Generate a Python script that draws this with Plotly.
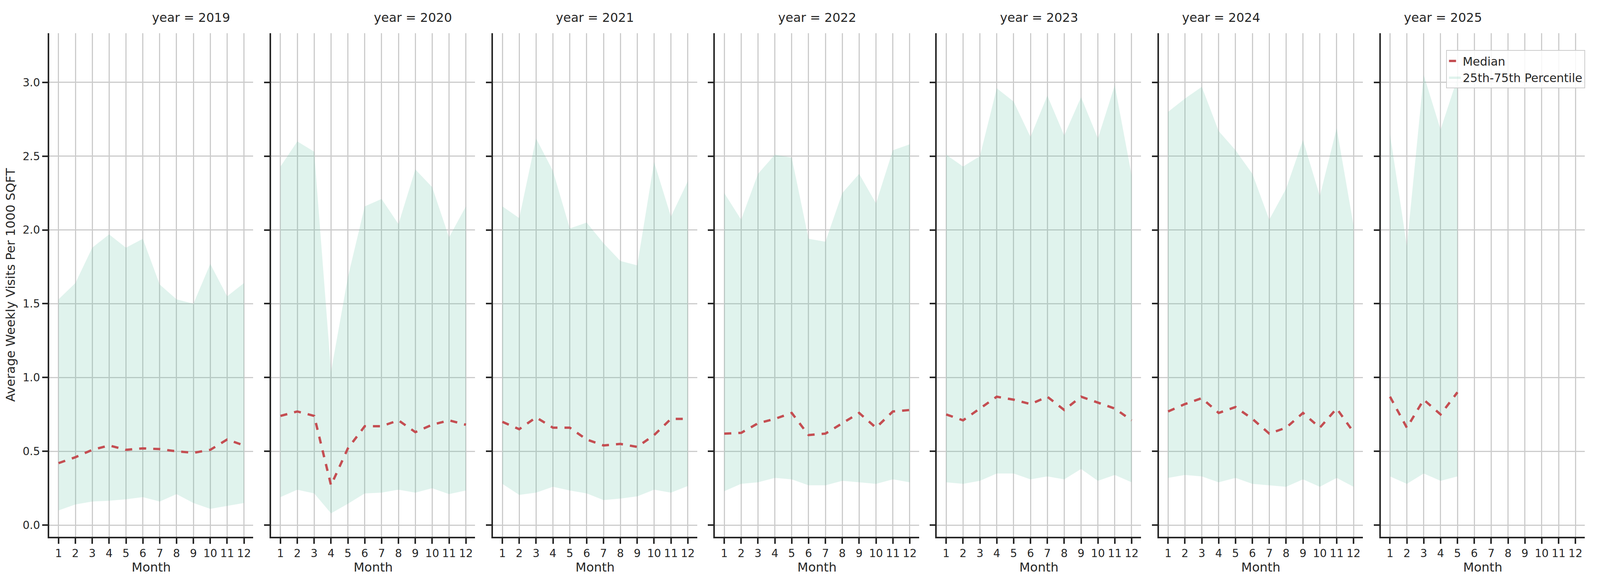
import plotly.graph_objects as go

years = [2019, 2020, 2021, 2022, 2023, 2024, 2025]
months = list(range(1, 13))

upper = {
    2019: [1.53, 1.64, 1.88, 1.97, 1.88, 1.94, 1.63, 1.53, 1.50, 1.77, 1.55, 1.64],
    2020: [2.43, 2.60, 2.53, 1.04, 1.68, 2.16, 2.21, 2.04, 2.41, 2.29, 1.95, 2.16],
    2021: [2.16, 2.08, 2.62, 2.40, 2.01, 2.05, 1.91, 1.79, 1.76, 2.46, 2.09, 2.33],
    2022: [2.25, 2.07, 2.38, 2.51, 2.49, 1.94, 1.92, 2.25, 2.38, 2.18, 2.54, 2.58],
    2023: [2.51, 2.43, 2.50, 2.96, 2.87, 2.63, 2.91, 2.64, 2.90, 2.62, 2.98, 2.37],
    2024: [2.80, 2.89, 2.97, 2.67, 2.54, 2.38, 2.07, 2.28, 2.61, 2.23, 2.69, 2.03],
    2025: [2.65, 1.89, 3.05, 2.68, 3.03],
}
lower = {
    2019: [0.10, 0.14, 0.16, 0.165, 0.175, 0.19, 0.16, 0.21, 0.15, 0.11, 0.13, 0.15],
    2020: [0.19, 0.24, 0.215, 0.08, 0.145, 0.215, 0.22, 0.24, 0.22, 0.25, 0.21, 0.235],
    2021: [0.28, 0.205, 0.22, 0.26, 0.235, 0.215, 0.17, 0.18, 0.195, 0.24, 0.22, 0.265],
    2022: [0.23, 0.28, 0.29, 0.32, 0.31, 0.27, 0.27, 0.30, 0.29, 0.28, 0.31, 0.29],
    2023: [0.29, 0.28, 0.30, 0.35, 0.35, 0.31, 0.33, 0.31, 0.38, 0.30, 0.34, 0.29],
    2024: [0.32, 0.34, 0.33, 0.29, 0.32, 0.28, 0.27, 0.26, 0.31, 0.26, 0.32, 0.26],
    2025: [0.33, 0.28, 0.35, 0.30, 0.33],
}
median = {
    2019: [0.42, 0.46, 0.51, 0.54, 0.51, 0.52, 0.515, 0.50, 0.49, 0.51, 0.58, 0.54],
    2020: [0.74, 0.77, 0.74, 0.27, 0.52, 0.67, 0.67, 0.71, 0.63, 0.68, 0.71, 0.68],
    2021: [0.70, 0.65, 0.73, 0.66, 0.66, 0.58, 0.54, 0.55, 0.53, 0.61, 0.72, 0.72],
    2022: [0.62, 0.625, 0.69, 0.72, 0.76, 0.61, 0.62, 0.69, 0.76, 0.66, 0.77, 0.78],
    2023: [0.75, 0.71, 0.79, 0.87, 0.85, 0.82, 0.87, 0.78, 0.87, 0.83, 0.79, 0.71],
    2024: [0.77, 0.82, 0.86, 0.76, 0.80, 0.72, 0.62, 0.66, 0.76, 0.66, 0.79, 0.63],
    2025: [0.87, 0.66, 0.85, 0.75, 0.90],
}

W, H = 5250, 1500
FONT = "DejaVu Sans"
TXT = "#262626"
FILL = "rgba(102,194,165,0.2)"
RED = "#c44e52"

fig = go.Figure()
left0, pw, gap = 152, 672, 59
for i, y in enumerate(years):
    n = len(median[y])
    xs = months[:n]
    ax = "" if i == 0 else str(i + 1)
    fig.add_trace(go.Scatter(x=xs, y=lower[y], mode="lines", line=dict(width=0),
                             showlegend=False, hoverinfo="skip",
                             xaxis="x" + ax, yaxis="y" + ax))
    fig.add_trace(go.Scatter(x=xs, y=upper[y], mode="lines", line=dict(width=0),
                             fill="tonexty", fillcolor=FILL,
                             name="25th-75th Percentile", showlegend=(i == 0),
                             xaxis="x" + ax, yaxis="y" + ax))
    fig.add_trace(go.Scatter(x=xs, y=median[y], mode="lines",
                             line=dict(color=RED, width=6, dash="dash"),
                             name="Median", showlegend=(i == 0),
                             xaxis="x" + ax, yaxis="y" + ax))
    l = left0 + i * (pw + gap)
    dom = [l / W, (l + pw) / W]
    common = dict(showline=True, linecolor=TXT, linewidth=4, ticks="outside",
                  ticklen=14, tickwidth=4, tickcolor=TXT, showgrid=True,
                  gridcolor="#cccccc", gridwidth=3, zeroline=False,
                  tickfont=dict(family=FONT, size=28, color=TXT))
    fig.layout["xaxis" + ax] = dict(common, domain=dom, range=[0.45, 12.55],
                                    tickvals=months, anchor="y" + ax,
                                    title=dict(text="Month", font=dict(family=FONT, size=32, color=TXT), standoff=8))
    fig.layout["yaxis" + ax] = dict(common, domain=[(H - 1366) / H, (H - 77) / H],
                                    range=[-0.079, 3.333], tickvals=[0, 0.5, 1, 1.5, 2, 2.5, 3],
                                    tickformat=".1f", showticklabels=(i == 0),
                                    anchor="x" + ax,
                                    title=dict(text="Average Weekly Visits Per 1000 SQFT" if i == 0 else "",
                                               font=dict(family=FONT, size=32, color=TXT)))
    fig.add_annotation(text=f"year = {y}", x=(dom[0] + dom[1]) / 2, y=(H - 58) / H,
                       xref="paper", yref="paper", showarrow=False,
                       font=dict(family=FONT, size=32, color=TXT), yanchor="bottom")

fig.update_layout(
    autosize=True, margin=dict(l=0, r=0, t=0, b=0),
    plot_bgcolor="white", paper_bgcolor="white",
    legend=dict(x=5212 / W, y=(H - 120) / H, xanchor="right", yanchor="top",
                bgcolor="rgba(255,255,255,0.85)", bordercolor="#cccccc", borderwidth=2,
                font=dict(family=FONT, size=30, color=TXT), traceorder="reversed"),
)
fig.write_html("out.html", default_width="100%", default_height="100vh",
               config={"responsive": True})
